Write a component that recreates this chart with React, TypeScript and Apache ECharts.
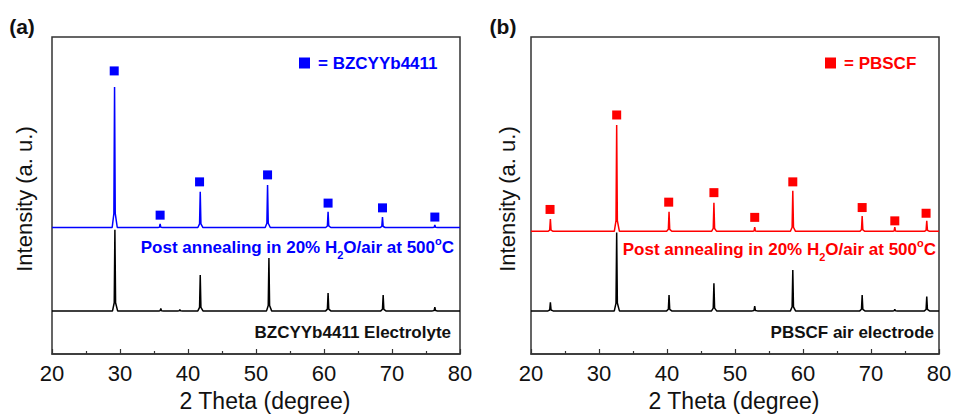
import React, { useEffect, useRef } from "react";
import * as echarts from "echarts";

// ---------- data ----------
const xTicks = [20, 30, 40, 50, 60, 70, 80];

// Panel (a) BZCYYb4411
const blueBase = 39.9;
const bluePeaks: [number, number][] = [
  [29.2, 84.2], [35.9, 41.0], [41.8, 51.2], [51.7, 53.3],
  [60.6, 44.9], [68.6, 43.2], [76.3, 40.7],
];
const blueMarkers: [number, number][] = [
  [29.15, 89.3], [35.9, 43.8], [41.7, 54.3], [51.7, 56.5],
  [60.6, 47.6], [68.6, 46.1], [76.3, 43.2],
];
const blackABase = 13.6;
const blackAPeaks: [number, number][] = [
  [29.25, 39.2], [36.0, 14.4], [38.8, 14.0], [41.8, 24.9], [51.9, 30.3],
  [60.6, 19.2], [68.7, 18.6], [76.3, 14.8],
];

// Panel (b) PBSCF
const redBase = 38.7;
const redPeaks: [number, number][] = [
  [22.85, 42.6], [32.6, 72.2], [40.3, 44.9], [46.9, 47.7], [52.9, 40.0],
  [58.5, 51.5], [68.7, 43.5], [73.5, 40.0], [78.2, 42.0],
];
const redMarkers: [number, number][] = [
  [22.8, 45.6], [32.6, 75.4], [40.25, 47.9], [46.9, 50.9], [52.9, 43.1],
  [58.5, 54.3], [68.7, 46.2], [73.5, 42.0], [78.1, 44.4],
];
const blackBBase = 13.6;
const blackBPeaks: [number, number][] = [
  [22.85, 16.3], [32.6, 38.3], [40.3, 18.6], [46.9, 22.3], [52.9, 15.1],
  [58.5, 26.5], [68.7, 18.6], [73.5, 14.1], [78.2, 18.1],
];

const BLUE = "#0000ff";
const RED = "#ff0000";
const FONT = "Liberation Sans";

function buildPattern(base: number, peaks: [number, number][]) {
  const pts: [number, number][] = [[20, base]];
  peaks.forEach(([p, top]) => {
    const h = top - base;
    pts.push([p - 0.35, base]);
    pts.push([p - 0.1, base + 0.1 * h]);
    pts.push([p, top]);
    pts.push([p + 0.1, base + 0.1 * h]);
    pts.push([p + 0.4, base]);
  });
  pts.push([80, base]);
  return pts;
}

function xAxisCfg(gridIndex: number) {
  return {
    type: "value",
    gridIndex,
    min: xTicks[0],
    max: xTicks[xTicks.length - 1],
    interval: 10,
    axisLine: { show: true, lineStyle: { color: "#333", width: 1.5 } },
    axisTick: { show: true, inside: true, length: 5, lineStyle: { color: "#333", width: 1.2 } },
    minorTick: { show: true, splitNumber: 2, length: 3, lineStyle: { color: "#333", width: 1.2 } },
    splitLine: { show: false },
    minorSplitLine: { show: false },
    axisLabel: { fontSize: 22, color: "#111", fontFamily: FONT, margin: 8 },
  };
}

function yAxisCfg(gridIndex: number) {
  return {
    type: "value",
    gridIndex,
    min: 0,
    max: 100,
    axisLine: { show: false },
    axisTick: { show: false },
    axisLabel: { show: false },
    splitLine: { show: false },
  };
}

function annotation(right: number, y: number, color: string) {
  return {
    type: "text",
    x: right,
    y,
    style: {
      text: "{a|Post annealing in 20% H}{s|2}{a|O/air at 500}{p|o}{a|C}",
      align: "right",
      verticalAlign: "middle",
      fill: color,
      font: `bold 17px "${FONT}"`,
      rich: {
        a: { fontSize: 17, fontWeight: "bold", fontFamily: FONT, fill: color },
        s: { fontSize: 11, fontWeight: "bold", fontFamily: FONT, fill: color, padding: [15, 0, 0, 0] },
        p: { fontSize: 11, fontWeight: "bold", fontFamily: FONT, fill: color, padding: [0, 0, 12, 0] },
      },
    },
  };
}

function plainText(x: number, y: number, text: string, opts: any = {}) {
  return {
    type: "text",
    x,
    y,
    rotation: opts.rotation || 0,
    style: {
      text,
      align: opts.align || "center",
      verticalAlign: "middle",
      fill: opts.color || "#111",
      font: `${opts.bold ? "bold " : ""}${opts.size || 17}px "${FONT}"`,
    },
  };
}

export default function App() {
  const ref = useRef<HTMLDivElement>(null);
  useEffect(() => {
    if (!ref.current) return;
    const chart = echarts.init(ref.current, null, { renderer: "svg" });
    const gridCommon = { top: 37, height: 317, width: 408, show: true, borderColor: "#333", borderWidth: 1.5, backgroundColor: "transparent" };
    chart.setOption({
      animation: false,
      backgroundColor: "#fff",
      grid: [
        { ...gridCommon, left: 52 },
        { ...gridCommon, left: 531 },
      ],
      xAxis: [xAxisCfg(0), xAxisCfg(1)],
      yAxis: [yAxisCfg(0), yAxisCfg(1)],
      series: [
        { type: "line", xAxisIndex: 0, yAxisIndex: 0, data: buildPattern(blackABase, blackAPeaks), showSymbol: false, lineStyle: { color: "#000", width: 1.5 }, z: 2 },
        { type: "line", xAxisIndex: 0, yAxisIndex: 0, data: buildPattern(blueBase, bluePeaks), showSymbol: false, lineStyle: { color: BLUE, width: 1.5 }, z: 3 },
        { type: "scatter", xAxisIndex: 0, yAxisIndex: 0, data: blueMarkers, symbol: "rect", symbolSize: 9, itemStyle: { color: BLUE, opacity: 1 }, z: 4 },
        { type: "line", xAxisIndex: 1, yAxisIndex: 1, data: buildPattern(blackBBase, blackBPeaks), showSymbol: false, lineStyle: { color: "#000", width: 1.5 }, z: 2 },
        { type: "line", xAxisIndex: 1, yAxisIndex: 1, data: buildPattern(redBase, redPeaks), showSymbol: false, lineStyle: { color: RED, width: 1.5 }, z: 3 },
        { type: "scatter", xAxisIndex: 1, yAxisIndex: 1, data: redMarkers, symbol: "rect", symbolSize: 9, itemStyle: { color: RED, opacity: 1 }, z: 4 },
      ],
      graphic: [
        plainText(22, 26, "(a)", { bold: true, size: 21 }),
        plainText(503, 26, "(b)", { bold: true, size: 21 }),
        { type: "rect", shape: { x: 299, y: 57.5, width: 11, height: 11 }, style: { fill: BLUE } },
        plainText(318, 63, "= BZCYYb4411", { bold: true, size: 17, color: BLUE, align: "left" }),
        { type: "rect", shape: { x: 825, y: 57.5, width: 11, height: 11 }, style: { fill: RED } },
        plainText(844, 63, "= PBSCF", { bold: true, size: 17, color: RED, align: "left" }),
        annotation(454, 247, BLUE),
        annotation(936, 249, RED),
        plainText(451, 332, "BZCYYb4411 Electrolyte", { bold: true, size: 17, align: "right" }),
        plainText(934, 332, "PBSCF air electrode", { bold: true, size: 17, align: "right" }),
        plainText(265, 401, "2 Theta (degree)", { size: 23 }),
        plainText(734, 401, "2 Theta (degree)", { size: 23 }),
        plainText(24, 199, "Intensity (a. u.)", { size: 22, rotation: Math.PI / 2 }),
        plainText(507, 199, "Intensity (a. u.)", { size: 22, rotation: Math.PI / 2 }),
      ],
    });
    return () => chart.dispose();
  }, []);
  return <div ref={ref} style={{ position: "fixed", left: 0, top: 0, width: 956, height: 414, background: "#fff" }} />;
}
